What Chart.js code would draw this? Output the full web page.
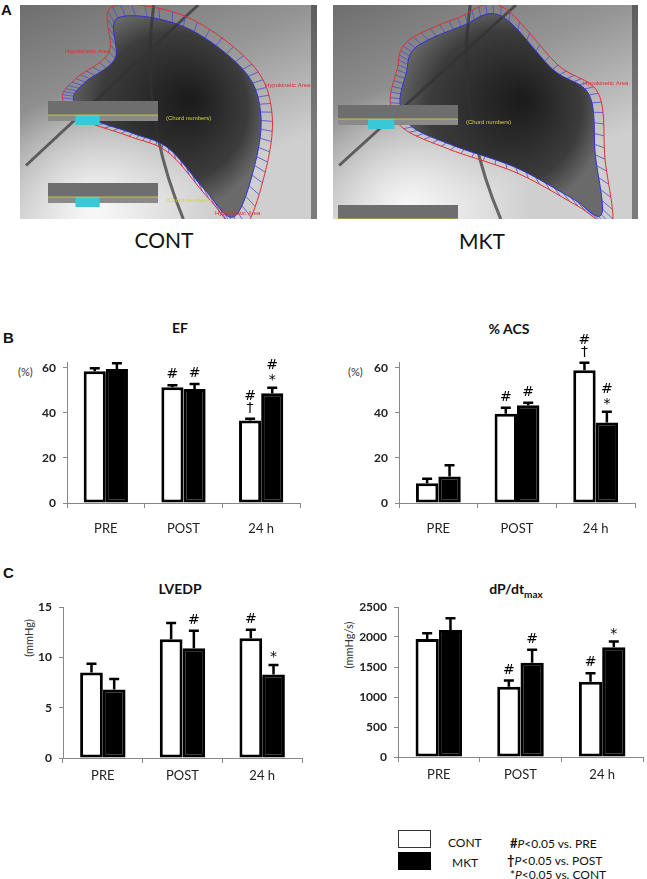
<!DOCTYPE html>
<html><head><meta charset="utf-8">
<script src="https://cdn.jsdelivr.net/npm/chart.js@4/dist/chart.umd.min.js"></script>
<style>
body{margin:0;background:#fff;width:647px;height:879px;position:relative;overflow:hidden;font-family:Lato,'Open Sans',sans-serif;color:#111;}
canvas{position:absolute;}
.t{position:absolute;white-space:nowrap;transform:translate(-50%,-50%);}
.title{font-weight:bold;font-size:14px;}
.letter{position:absolute;font-family:'Liberation Sans',Arial,sans-serif;font-weight:bold;font-size:15px;}
.unit{position:absolute;font-size:11px;color:#333;white-space:nowrap;}
.unitv{font-size:11px;color:#333;transform:translate(-50%,-50%) rotate(-90deg);}
.box{position:absolute;width:33px;height:18px;box-sizing:border-box;}
.lg{position:absolute;font-size:12px;white-space:nowrap;transform:translateY(-50%);}
</style></head><body>

<div class="letter" style="left:1px;top:1px;">A</div>
<canvas id="angioL" width="297" height="214" style="left:20px;top:5px;"></canvas>
<canvas id="angioR" width="305" height="214" style="left:333px;top:5px;"></canvas>
<div class="t" style="left:164px;top:239px;font-size:21px;">CONT</div>
<div class="t" style="left:482px;top:240px;font-size:21px;">MKT</div>

<div class="letter" style="left:3px;top:329px;">B</div>
<div class="t title" style="left:180px;top:327px;">EF</div>
<div class="t title" style="left:509px;top:328px;">% ACS</div>
<div class="unit" style="left:18px;top:365px;">(%)</div>
<div class="unit" style="left:348px;top:365px;">(%)</div>
<canvas id="cEF" width="320" height="222" style="left:0px;top:318px;"></canvas>
<canvas id="cACS" width="327" height="222" style="left:320px;top:318px;"></canvas>

<div class="letter" style="left:3px;top:564px;">C</div>
<div class="t title" style="left:180px;top:588px;">LVEDP</div>
<div class="t title" style="left:516px;top:590px;">dP/dt<sub style="font-size:10px;">max</sub></div>
<div class="t unitv" style="left:28px;top:638px;">(mmHg)</div>
<div class="t unitv" style="left:348px;top:645px;">(mmHg/s)</div>
<canvas id="cLV" width="320" height="200" style="left:0px;top:585px;"></canvas>
<canvas id="cDP" width="327" height="200" style="left:320px;top:585px;"></canvas>

<div class="box" style="left:398px;top:830px;border:1.5px solid #333;background:#fff;"></div>
<div class="box" style="left:398px;top:852px;background:#000;"></div>
<div class="lg" style="left:448px;top:842px;">CONT</div>
<div class="lg" style="left:452px;top:862px;">MKT</div>
<div class="lg" style="left:510px;top:843px;"><b style="font-size:13px;">#</b><i>P</i>&lt;0.05 vs. PRE</div>
<div class="lg" style="left:507px;top:860px;"><b style="font-size:13px;">†</b><i>P</i>&lt;0.05 vs. POST</div>
<div class="lg" style="left:510px;top:874px;">*<i>P</i>&lt;0.05 vs. CONT</div>

<script>
// ---------- data ----------
const categories = ['PRE', 'POST', '24 h'];
const seriesNames = ['CONT', 'MKT'];

const efTicks = [0, 20, 40, 60];
const efCont = [58.4, 51.3, 36.6];
const efContErr = [1.6, 1.1, 1.0];
const efMkt = [59.4, 50.5, 48.6];
const efMktErr = [2.8, 2.5, 2.7];
const efContSig = [[], ['#'], ['†', '#']];
const efMktSig = [[], ['#'], ['*', '#']];

const acsTicks = [0, 20, 40, 60];
const acsCont = [8.7, 39.6, 58.8];
const acsContErr = [2.3, 2.8, 3.6];
const acsMkt = [11.7, 43.3, 35.7];
const acsMktErr = [5.2, 1.4, 5.0];
const acsContSig = [[], ['#'], ['†', '#']];
const acsMktSig = [[], ['#'], ['*', '#']];

const lvTicks = [0, 5, 10, 15];
const lvCont = [8.5, 11.8, 11.9];
const lvContErr = [0.9, 1.65, 0.9];
const lvMkt = [6.8, 10.9, 8.3];
const lvMktErr = [1.1, 1.8, 1.0];
const lvContSig = [[], [], ['#']];
const lvMktSig = [[], ['#'], ['*']];

const dpTicks = [0, 500, 1000, 1500, 2000, 2500];
const dpCont = [1967, 1172, 1255];
const dpContErr = [105, 111, 150];
const dpMkt = [2117, 1572, 1828];
const dpMktErr = [205, 223, 105];
const dpContSig = [[], ['#'], ['#']];
const dpMktSig = [[], ['#'], ['*']];

// ---------- charts ----------
Chart.defaults.font.family = "Lato, 'Open Sans', sans-serif";

const errPlugin = {
  id: 'errbars',
  afterDatasetsDraw(chart) {
    const ctx = chart.ctx;
    const ys = chart.scales.y;
    chart.data.datasets.forEach((ds, i) => {
      const meta = chart.getDatasetMeta(i);
      meta.data.forEach((el, j) => {
        const v = ds.data[j], e = ds.errors[j];
        const yTop = ys.getPixelForValue(v + e);
        ctx.save();
        ctx.strokeStyle = '#000';
        ctx.lineWidth = 2.5;
        ctx.beginPath();
        ctx.moveTo(el.x, el.y);
        ctx.lineTo(el.x, yTop);
        ctx.moveTo(el.x - 5, yTop + 0.5);
        ctx.lineTo(el.x + 5, yTop + 0.5);
        ctx.stroke();
        ctx.fillStyle = '#000';
        ctx.textAlign = 'center';
        ctx.textBaseline = 'middle';
        ctx.font = "14px 'DejaVu Sans', sans-serif";
        let y = yTop - 10;
        (ds.sig[j] || []).forEach((s, k) => {
          const off = s === '*' ? 3 : 0;
          ctx.fillText(s, el.x, y + off);
          y -= 12;
        });
        ctx.restore();
      });
    });
  }
};

function makeChart(id, c) {
  return new Chart(document.getElementById(id), {
    type: 'bar',
    data: {
      labels: categories,
      datasets: [
        { label: seriesNames[0], data: c.cont, errors: c.contErr, sig: c.contSig,
          backgroundColor: '#fff', borderColor: '#000', borderWidth: 3, borderSkipped: false },
        { label: seriesNames[1], data: c.mkt, errors: c.mktErr, sig: c.mktSig,
          backgroundColor: '#000', borderColor: '#000', borderWidth: 3, borderSkipped: false }
      ]
    },
    options: {
      responsive: false,
      animation: false,
      layout: { padding: { top: c.padTop, right: c.padRight, left: 0, bottom: 0 } },
      plugins: { legend: { display: false }, tooltip: { enabled: false }, title: { display: false } },
      datasets: { bar: { categoryPercentage: 0.57, barPercentage: 1 } },
      scales: {
        x: {
          grid: { offset: true, drawOnChartArea: false, drawTicks: true, tickLength: 5, color: '#888' },
          border: { color: '#888', width: 1 },
          ticks: { font: { size: 13 }, color: '#222', padding: c.xPad, maxRotation: 0 },
          afterFit(s) { s.height = c.xH; }
        },
        y: {
          min: 0, max: c.max,
          grid: { drawOnChartArea: false, drawTicks: true, tickLength: 4, color: '#888' },
          border: { color: '#888', width: 1 },
          ticks: { font: { size: 12, weight: 'bold' }, color: '#222', padding: 7, callback: v => String(v) },
          afterBuildTicks(s) { s.ticks = c.ticks.map(v => ({ value: v })); },
          afterFit(s) { s.width = c.yW; }
        }
      }
    },
    plugins: [errPlugin]
  });
}

makeChart('cEF', { cont: efCont, contErr: efContErr, contSig: efContSig, mkt: efMkt, mktErr: efMktErr, mktSig: efMktSig,
  ticks: efTicks, max: 62.5, padTop: 44, padRight: 20, yW: 67, xH: 37, xPad: 13 });
makeChart('cACS', { cont: acsCont, contErr: acsContErr, contSig: acsContSig, mkt: acsMkt, mktErr: acsMktErr, mktSig: acsMktSig,
  ticks: acsTicks, max: 62.5, padTop: 44, padRight: 12, yW: 79, xH: 37, xPad: 13 });
makeChart('cLV', { cont: lvCont, contErr: lvContErr, contSig: lvContSig, mkt: lvMkt, mktErr: lvMktErr, mktSig: lvMktSig,
  ticks: lvTicks, max: 15, padTop: 22, padRight: 18, yW: 63, xH: 27, xPad: 5 });
makeChart('cDP', { cont: dpCont, contErr: dpContErr, contSig: dpContSig, mkt: dpMkt, mktErr: dpMktErr, mktSig: dpMktSig,
  ticks: dpTicks, max: 2500, padTop: 22, padRight: 4, yW: 78, xH: 28, xPad: 5 });

// ---------- angiogram illustrations (decorative) ----------
function smooth(pts, n) {
  const out = [];
  const L = pts.length;
  for (let i = 0; i < L; i++) {
    const p0 = pts[(i - 1 + L) % L], p1 = pts[i], p2 = pts[(i + 1) % L], p3 = pts[(i + 2) % L];
    for (let k = 0; k < n; k++) {
      const t = k / n, t2 = t * t, t3 = t2 * t;
      out.push([
        0.5 * (2 * p1[0] + (-p0[0] + p2[0]) * t + (2 * p0[0] - 5 * p1[0] + 4 * p2[0] - p3[0]) * t2 + (-p0[0] + 3 * p1[0] - 3 * p2[0] + p3[0]) * t3),
        0.5 * (2 * p1[1] + (-p0[1] + p2[1]) * t + (2 * p0[1] - 5 * p1[1] + 4 * p2[1] - p3[1]) * t2 + (-p0[1] + 3 * p1[1] - 3 * p2[1] + p3[1]) * t3)
      ]);
    }
  }
  return out;
}
function drawAngio(id, shape, scaleOut) {
  const cv = document.getElementById(id), ctx = cv.getContext('2d');
  const W = cv.width, H = cv.height;
  let g = ctx.createLinearGradient(0, 0, W * 0.3, H);
  g.addColorStop(0, '#6e6e6e'); g.addColorStop(0.5, '#959595'); g.addColorStop(1, '#cfcfcf');
  ctx.fillStyle = g; ctx.fillRect(0, 0, W, H);
  let rg = ctx.createRadialGradient(W * 0.25, H * 0.95, 5, W * 0.25, H * 0.95, W * 0.4);
  rg.addColorStop(0, 'rgba(255,255,255,0.85)'); rg.addColorStop(1, 'rgba(255,255,255,0)');
  ctx.fillStyle = rg; ctx.fillRect(0, 0, W, H);
  ctx.fillStyle = 'rgba(40,40,40,0.5)'; ctx.fillRect(W - 6, 0, 6, H);
  const pts = smooth(shape.map(p => [p[0] * W, p[1] * H]), 12);
  let cx = 0, cy = 0; pts.forEach(p => { cx += p[0]; cy += p[1]; }); cx /= pts.length; cy /= pts.length;
  const outer = pts.map(p => [cx + (p[0] - cx) * scaleOut, cy + (p[1] - cy) * scaleOut]);
  let dg = ctx.createRadialGradient(cx + W * 0.08, cy - H * 0.05, 5, cx, cy, W * 0.35);
  dg.addColorStop(0, '#1c1c1c'); dg.addColorStop(0.7, '#3c3c3c'); dg.addColorStop(1, '#6a6a6a');
  ctx.fillStyle = dg;
  ctx.beginPath(); pts.forEach((p, i) => i ? ctx.lineTo(p[0], p[1]) : ctx.moveTo(p[0], p[1])); ctx.closePath(); ctx.fill();
  ctx.strokeStyle = 'rgba(50,50,50,0.7)'; ctx.lineWidth = 3;
  ctx.beginPath(); ctx.moveTo(W * 0.02, H * 0.75); ctx.lineTo(W * 0.6, 0); ctx.stroke();
  ctx.beginPath(); ctx.moveTo(W * 0.45, 0); ctx.quadraticCurveTo(W * 0.4, H * 0.5, W * 0.55, H); ctx.stroke();
  ctx.strokeStyle = '#4a4ad8'; ctx.lineWidth = 0.8;
  for (let i = 0; i < pts.length; i += 2) {
    ctx.beginPath(); ctx.moveTo(pts[i][0], pts[i][1]); ctx.lineTo(outer[i][0], outer[i][1]); ctx.stroke();
  }
  ctx.lineWidth = 1;
  ctx.strokeStyle = '#3030d0';
  ctx.beginPath(); pts.forEach((p, i) => i ? ctx.lineTo(p[0], p[1]) : ctx.moveTo(p[0], p[1])); ctx.closePath(); ctx.stroke();
  ctx.strokeStyle = '#e03030';
  ctx.beginPath(); outer.forEach((p, i) => i ? ctx.lineTo(p[0], p[1]) : ctx.moveTo(p[0], p[1])); ctx.closePath(); ctx.stroke();
  function panel(x, y, w) {
    ctx.fillStyle = '#6e6e6e'; ctx.fillRect(x, y, w, 14);
    ctx.fillStyle = '#8a8a8a'; ctx.fillRect(x, y + 14, w, 6);
    ctx.fillStyle = '#38c8d8'; ctx.fillRect(x + w * 0.25, y + 14, w * 0.22, 10);
    ctx.strokeStyle = '#d8d040'; ctx.lineWidth = 0.8;
    ctx.beginPath(); ctx.moveTo(x, y + 14); ctx.lineTo(x + w, y + 14); ctx.stroke();
    ctx.fillStyle = '#d8d040'; ctx.font = '6px sans-serif';
    ctx.fillText('(Chord numbers)', x + w + 8, y + 19);
  }
  return { ctx, W, H, panel };
}
const L = drawAngio('angioL',
  [[0.33, 0.06], [0.55, 0.1], [0.75, 0.3], [0.81, 0.5], [0.79, 0.75], [0.72, 0.99], [0.62, 0.86], [0.5, 0.67], [0.38, 0.6], [0.24, 0.53], [0.18, 0.44], [0.22, 0.36], [0.32, 0.25]],
  1.12);
L.panel(28, 96, 110); L.panel(28, 178, 110);
L.ctx.fillStyle = '#e03030'; L.ctx.font = '6px sans-serif';
L.ctx.fillText('Hypokinetic Area', 45, 48); L.ctx.fillText('Hypokinetic Area', 245, 82); L.ctx.fillText('Hypokinetic Area', 195, 210);
const R = drawAngio('angioR',
  [[0.27, 0.2], [0.42, 0.1], [0.55, 0.05], [0.72, 0.3], [0.84, 0.42], [0.86, 0.7], [0.88, 0.98], [0.78, 0.9], [0.6, 0.76], [0.4, 0.66], [0.26, 0.57], [0.22, 0.46], [0.24, 0.32]],
  1.1);
R.panel(5, 100, 120); R.panel(5, 200, 120);
R.ctx.fillStyle = '#e03030'; R.ctx.font = '6px sans-serif';
R.ctx.fillText('Hypokinetic Area', 250, 80);
</script>
</body></html>
